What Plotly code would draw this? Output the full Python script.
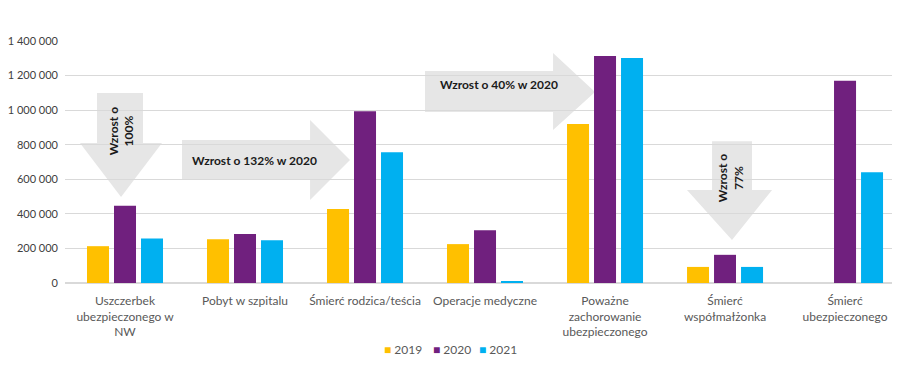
import plotly.graph_objects as go

categories = [
    "Uszczerbek<br>ubezpieczonego w<br>NW",
    "Pobyt w szpitalu",
    "Śmierć rodzica/teścia",
    "Operacje medyczne",
    "Poważne<br>zachorowanie<br>ubezpieczonego",
    "Śmierć<br>współmałżonka",
    "Śmierć<br>ubezpieczonego",
]
years = ["2019", "2020", "2021"]
v2019 = [213000, 253000, 428000, 225000, 920000, 93000, 0]
v2020 = [447000, 283000, 993000, 305000, 1313000, 163000, 1170000]
v2021 = [258000, 248000, 757000, 10000, 1302000, 93000, 640000]
colors = ["#FFC000", "#70207E", "#00B0F0"]
yticks = [0, 200000, 400000, 600000, 800000, 1000000, 1200000, 1400000]
ytext = ["0", "200 000", "400 000", "600 000", "800 000", "1 000 000", "1 200 000", "1 400 000"]

xs = list(range(len(categories)))
fig = go.Figure()
for name, vals, c in zip(years, [v2019, v2020, v2021], colors):
    fig.add_trace(go.Bar(x=xs, y=vals, name=name, marker_color=c, marker_line_width=0,
                         showlegend=False))

ARROW = "#E6E6E6"
def path(pts):
    return "M " + " L ".join(f"{x},{y}" for x, y in pts) + " Z"

shapes = [
    dict(type="path", xref="x", yref="y", fillcolor=ARROW, line_width=0, layer="below",
         path=path([(-0.233, 1099000), (0.15, 1099000), (0.15, 810000), (0.308, 810000),
                    (-0.033, 497000), (-0.375, 810000), (-0.233, 810000)])),
    dict(type="path", xref="x", yref="y", fillcolor=ARROW, line_width=0, layer="below",
         path=path([(0.475, 827000), (1.542, 827000), (1.542, 943000), (1.875, 711000),
                    (1.542, 480000), (1.542, 596000), (0.475, 596000)])),
    dict(type="path", xref="x", yref="y", fillcolor=ARROW, line_width=0, layer="below",
         path=path([(2.5, 1226000), (3.567, 1226000), (3.567, 1330000), (3.917, 1105000),
                    (3.567, 885000), (3.567, 989000), (2.5, 989000)])),
    dict(type="path", xref="x", yref="y", fillcolor=ARROW, line_width=0, layer="below",
         path=path([(4.892, 820000), (5.225, 820000), (5.225, 538000), (5.392, 538000),
                    (5.058, 249000), (4.683, 538000), (4.892, 538000)])),
]

afont = dict(family="Lato, Open Sans, sans-serif", size=12, color="#1a1a1a")
annotations = [
    dict(x=-0.03, y=880000, xref="x", yref="y", text="<b>Wzrost o<br>100%</b>", textangle=-90,
         showarrow=False, font=afont),
    dict(x=1.083, y=711000, xref="x", yref="y", text="<b>Wzrost o 132% w 2020</b>",
         showarrow=False, font=afont),
    dict(x=3.117, y=1151000, xref="x", yref="y", text="<b>Wzrost o 40% w 2020</b>",
         showarrow=False, font=afont),
    dict(x=5.042, y=607000, xref="x", yref="y", text="<b>Wzrost o<br>77%</b>", textangle=-90,
         showarrow=False, font=afont),
]
# legend built as text entries
leg_x = [0.405, 0.463, 0.519]
for name, c, lx in zip(years, colors, leg_x):
    annotations.append(dict(x=lx, y=-0.273, xref="paper", yref="paper", xanchor="center",
                            yanchor="middle", showarrow=False,
                            text=f'<span style="color:{c}">■</span> {name}',
                            font=dict(family="Lato, Open Sans, sans-serif", size=12, color="#595959")))

fig.update_layout(
    width=892, height=381,
    margin=dict(l=57, r=0, t=33, b=106),
    paper_bgcolor="white", plot_bgcolor="white",
    barmode="group", bargap=0.325, bargroupgap=0.185,
    font=dict(family="Lato, Open Sans, sans-serif", size=12, color="#595959"),
    shapes=shapes, annotations=annotations,
    showlegend=False,
)
fig.update_xaxes(range=[-0.5, 6.458], tickvals=xs, ticktext=categories, showgrid=False,
                 zeroline=False, showline=False, ticks="", ticklabelstandoff=9,
                 tickfont=dict(size=12, color="#595959"))
fig.update_yaxes(range=[0, 1400000], tickvals=yticks, ticktext=ytext, showgrid=True,
                 gridcolor="#D9D9D9", gridwidth=1, zeroline=True, zerolinecolor="#D9D9D9",
                 showline=False, ticks="", ticklabelstandoff=6,
                 tickfont=dict(size=11, color="#404040"))

fig.write_html("out.html")
